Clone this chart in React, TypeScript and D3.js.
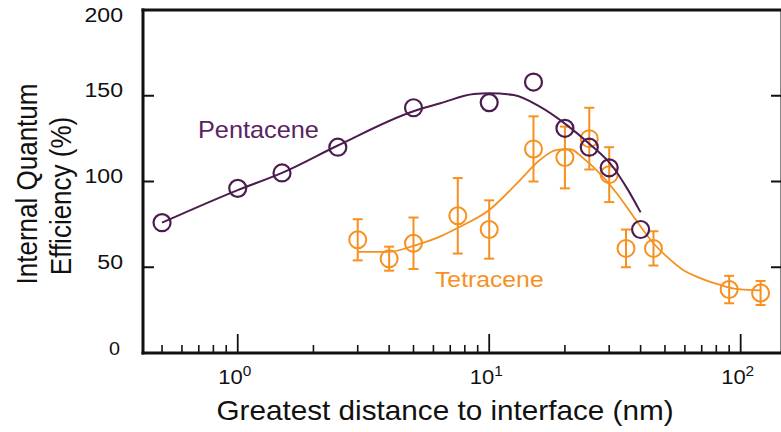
import React from "react";
import * as d3 from "d3";

// Pentacene measurements: distance (nm) and internal quantum efficiency (%)
const pentaceneDist = [0.5, 1, 1.5, 2.5, 5, 10, 15, 20, 25, 30, 40];
const pentaceneIQE = [76, 96, 105, 120, 143, 146, 158, 131, 120, 108, 72];

// Pentacene fit curve
const pentaceneFitDist = [0.5, 1, 1.5, 2.5, 5, 6.4, 8.7, 10, 12.5, 15.9, 20.3, 25, 31, 35, 40];
const pentaceneFitIQE = [76, 95, 105, 121, 141, 145.6, 151, 151.4, 150.4, 143.6, 133, 122, 108.6, 97, 82];

// Tetracene measurements with error bars
const tetraceneDist = [3, 4, 5, 7.5, 10, 15, 20, 25, 30, 35, 45, 90, 120];
const tetraceneIQE = [66, 55, 64, 80, 72, 119, 114, 125, 104, 61, 61, 37, 35];
const tetraceneErr = [12, 7, 15, 22, 17, 19, 18, 18, 16, 11, 10, 8, 7];

// Tetracene fit curve
const tetraceneFitDist = [3, 4, 5, 6.4, 7.65, 10, 13.3, 15.9, 18.6, 21, 23.7, 27.5, 32.2, 37.5, 45, 51, 59, 69, 83, 93, 120];
const tetraceneFitIQE = [59, 59, 62.5, 68, 73.6, 83.4, 101, 112.5, 118.4, 118.8, 113.5, 104.8, 93, 79.5, 64, 56, 48.4, 43.7, 39.7, 37.7, 36.5];

const yTicks = [0, 50, 100, 150, 200];
const xMajorTicks = [1, 10, 100];
const xMajorLabels = ["0", "1", "2"];
const xMinorTicks = [
  0.5, 0.6, 0.7, 0.8, 0.9,
  2, 3, 4, 5, 6, 7, 8, 9,
  20, 30, 40, 50, 60, 70, 80, 90,
];

const PURPLE = "#4b1d4f";
const PURPLE_TEXT = "#5a2462";
const ORANGE = "#f7901e";
const FONT = "'Liberation Sans', Arial, sans-serif";
const SX = 1.1; // glyphs are drawn slightly wide

export default function App() {
  const W = 781;
  const H = 432;
  const left = 143;
  const right = 782;
  const top = 10;
  const bottom = 353;

  const x = d3.scaleLog().domain([0.42, 146]).range([left, right]);
  const y = d3.scaleLinear().domain([0, 200]).range([bottom, top]);

  const line = d3
    .line<[number, number]>()
    .x((d) => x(d[0]))
    .y((d) => y(d[1]))
    .curve(d3.curveMonotoneX);

  const pentFit = line(pentaceneFitDist.map((d, i) => [d, pentaceneFitIQE[i]]));
  const tetFit = line(tetraceneFitDist.map((d, i) => [d, tetraceneFitIQE[i]]));

  const r = 8.5;

  const hText = (
    key: string,
    tx: number,
    ty: number,
    size: number,
    anchor: "start" | "middle" | "end",
    fill: string,
    content: React.ReactNode
  ) => (
    <text
      key={key}
      transform={`translate(${tx},${ty}) scale(${SX},1)`}
      textAnchor={anchor}
      fontFamily={FONT}
      fontSize={size}
      fill={fill}
    >
      {content}
    </text>
  );

  return (
    <svg width={W} height={H} style={{ position: "absolute", left: 0, top: 0, background: "#fff" }}>
      <rect x={0} y={0} width={W} height={H} fill="#fff" />

      {/* axes frame */}
      <line x1={left} x2={left} y1={top - 1.5} y2={bottom + 1.5} stroke="#111" strokeWidth={3} />
      <line x1={left - 1.5} x2={W + 5} y1={top} y2={top} stroke="#111" strokeWidth={3} />
      <line x1={left - 1.5} x2={W + 5} y1={bottom} y2={bottom} stroke="#111" strokeWidth={3} />
      <line x1={right} x2={right} y1={top} y2={bottom} stroke="#111" strokeWidth={3} />

      {/* y ticks */}
      {yTicks.slice(1, -1).map((t) => (
        <g key={"yt" + t}>
          <line x1={left} x2={left + 11} y1={y(t)} y2={y(t)} stroke="#111" strokeWidth={2} />
          <line x1={right - 11} x2={right} y1={y(t)} y2={y(t)} stroke="#111" strokeWidth={2} />
        </g>
      ))}
      {yTicks.map((t) =>
        t === 0
          ? hText("yl0", 120, 355, 18, "end", "#111", String(t))
          : hText("yl" + t, 123, t === 200 ? 22 : y(t) + 1.5, 21, "end", "#111", String(t))
      )}

      {/* x ticks */}
      {xMinorTicks.map((t) => (
        <line key={"xm" + t} x1={x(t)} x2={x(t)} y1={bottom} y2={bottom - 8} stroke="#111" strokeWidth={1.6} />
      ))}
      {xMajorTicks.map((t, i) => (
        <g key={"xM" + t}>
          <line x1={x(t)} x2={x(t)} y1={bottom} y2={bottom - 19} stroke="#111" strokeWidth={1.8} />
          {hText(
            "xl" + t,
            x(t) - 3,
            384,
            20,
            "middle",
            "#111",
            <>
              10
              <tspan dy={-8} fontSize={14}>
                {xMajorLabels[i]}
              </tspan>
            </>
          )}
        </g>
      ))}

      {/* axis titles */}
      {hText("xt", 445, 420, 27, "middle", "#111", "Greatest distance to interface (nm)")}
      <text
        transform={`translate(37,184) scale(${SX},1) rotate(-90)`}
        textAnchor="middle"
        fontFamily={FONT}
        fontSize={26}
        fill="#111"
      >
        Internal Quantum
      </text>
      <text
        transform={`translate(71,196) scale(${SX},1) rotate(-90)`}
        textAnchor="middle"
        fontFamily={FONT}
        fontSize={26}
        fill="#111"
      >
        Efficiency (%)
      </text>

      {/* tetracene fit, error bars and points */}
      <path d={tetFit ?? ""} fill="none" stroke={ORANGE} strokeWidth={1.8} />
      {tetraceneDist.map((d, i) => {
        const cx = x(d);
        const v = tetraceneIQE[i];
        const e = tetraceneErr[i];
        return (
          <g key={"t" + i} stroke={ORANGE} fill="none">
            <line x1={cx} x2={cx} y1={y(v + e)} y2={y(v - e)} strokeWidth={2} />
            <line x1={cx - 5} x2={cx + 5} y1={y(v + e)} y2={y(v + e)} strokeWidth={2} />
            <line x1={cx - 5} x2={cx + 5} y1={y(v - e)} y2={y(v - e)} strokeWidth={2} />
            <circle cx={cx} cy={y(v)} r={r} strokeWidth={2} />
          </g>
        );
      })}

      {/* pentacene fit and points */}
      <path d={pentFit ?? ""} fill="none" stroke={PURPLE} strokeWidth={2} />
      {pentaceneDist.map((d, i) => (
        <circle key={"p" + i} cx={x(d)} cy={y(pentaceneIQE[i])} r={r} fill="none" stroke={PURPLE} strokeWidth={2.2} />
      ))}

      {/* series labels */}
      {hText("lp", 198, 138, 23, "start", PURPLE_TEXT, "Pentacene")}
      {hText("lt", 435, 287, 22.5, "start", ORANGE, "Tetracene")}
    </svg>
  );
}
